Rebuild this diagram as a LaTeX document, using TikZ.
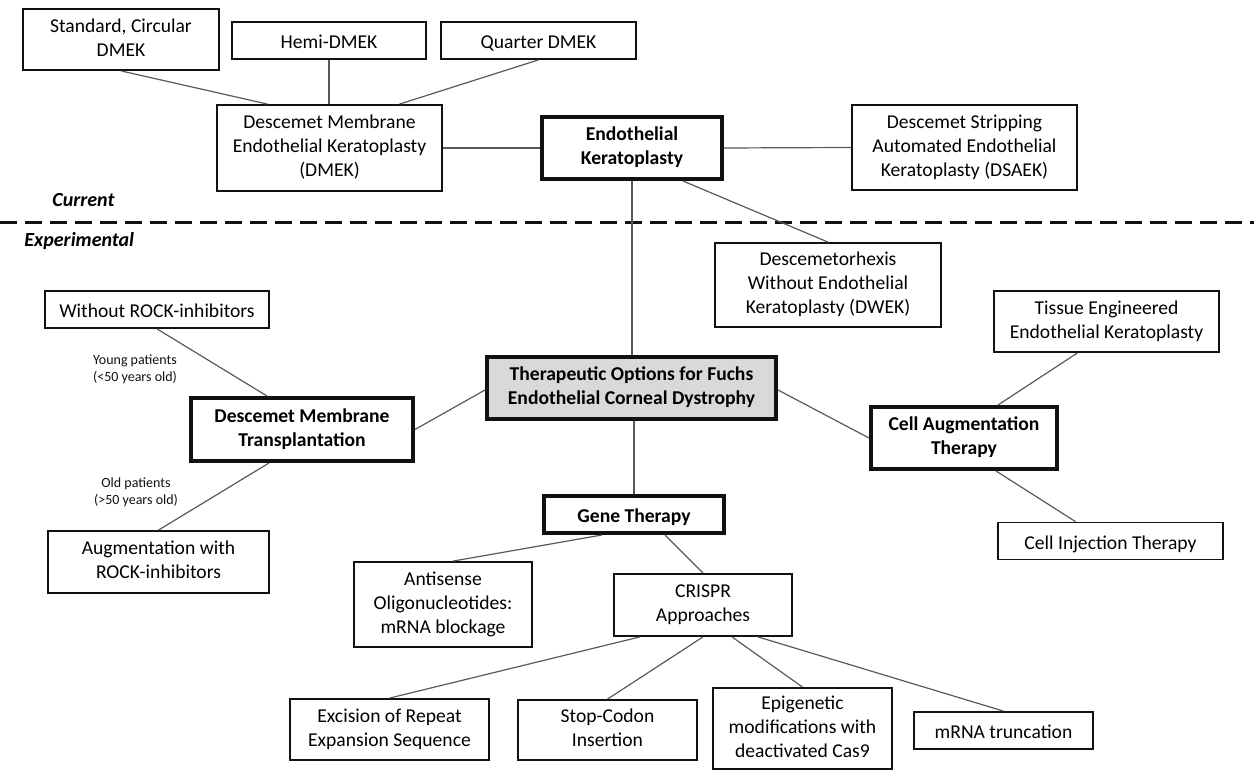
\documentclass[tikz,border=0pt]{standalone}
\usepackage{fontspec}
\setmainfont{Carlito}
\usepackage{tikz}
\usetikzlibrary{positioning, calc}
\definecolor{ink}{HTML}{111111}
\definecolor{wire}{HTML}{595959}
\definecolor{core}{HTML}{D9D9D9}
\newcommand\boxstrut{\rule[-2pt]{0pt}{12pt}}
\tikzset{
  box/.style     = {draw=ink, line width=0.9pt, rectangle, align=center,
                    inner sep=2pt, font=\fontsize{9.8}{12}\selectfont,
                    execute at begin node=\boxstrut, execute at end node=\boxstrut},
  boxhl/.style   = {box, line width=2pt, font=\fontsize{9.8}{12}\selectfont\bfseries},
  boxcore/.style = {boxhl, fill=core},
  link/.style    = {draw=wire, line width=0.6pt},
  split/.style   = {draw=ink, line width=1.5pt, dash pattern=on 8.5pt off 4pt},
  note/.style    = {font=\fontsize{7}{8.5}\selectfont, align=center, text=ink},
  era/.style     = {font=\fontsize{10}{12}\selectfont\bfseries\itshape, anchor=west, inner sep=0pt},
}

\begin{document}
\begin{tikzpicture}[x=0.5pt, y=-0.5pt]
  \useasboundingbox (0,0) rectangle (1254,770);

  % current options
  \node[box, minimum width=98pt, minimum height=30.5pt] (std) at (121,39.5) {Standard, Circular\\DMEK};
  \node[box, minimum width=97pt, minimum height=18.5pt] (hemi) at (329,40.5) {Hemi-DMEK};
  \node[box, minimum width=97.5pt, minimum height=18.5pt] (quarter) at (538.5,40.5) {Quarter DMEK};
  \node[box, minimum width=112.5pt, minimum height=43pt] (dmek) at (329.5,148)
    {Descemet Membrane\\Endothelial Keratoplasty\\(DMEK)};
  \node[boxhl, minimum width=90pt, minimum height=31pt] (ek) at (632,148) {Endothelial\\Keratoplasty};
  \node[box, minimum width=112.5pt, minimum height=42.5pt] (dsaek) at (964.5,147.5)
    {Descemet Stripping\\Automated Endothelial\\Keratoplasty (DSAEK)};

  \node[era] (cur) at (52,200) {Current};
  \coordinate (cutL) at (0,223);
  \coordinate (cutR) at (1254,223);
  \draw[split] (cutL) -- (cutR);
  \node[era] (exp) at (24,241) {Experimental};

  % experimental options
  \node[box, minimum width=113pt, minimum height=42pt] (dwek) at (828,285)
    {Descemetorhexis\\Without Endothelial\\Keratoplasty (DWEK)};
  \node[boxcore, minimum width=144.5pt, minimum height=31pt] (fecd) at (631.5,388)
    {Therapeutic Options for Fuchs\\Endothelial Corneal Dystrophy};

  \node[box, minimum width=112pt, minimum height=18.5pt] (woRock) at (157,309.5) {Without ROCK-inhibitors};
  \node[boxhl, minimum width=111pt, minimum height=31.5pt] (dmt) at (302,429.5)
    {Descemet Membrane\\Transplantation};
  \node[box, minimum width=110.5pt, minimum height=31pt] (augRock) at (158.5,562)
    {Augmentation with\\ROCK-inhibitors};
  \node[note] (young) at (135,369) {Young patients\\(<50 years old)};
  \node[note] (old) at (136,492) {Old patients\\(>50 years old)};

  \node[box, minimum width=112.5pt, minimum height=30.5pt] (tissue) at (1106.5,321.5)
    {Tissue Engineered\\Endothelial Keratoplasty};
  \node[boxhl, minimum width=93pt, minimum height=31pt] (cellAug) at (964,438) {Cell Augmentation\\Therapy};
  \node[box, minimum width=112.5pt, minimum height=18.5pt] (cellInj) at (1110.5,541) {Cell Injection Therapy};

  \node[boxhl, minimum width=90pt, minimum height=18.5pt] (gene) at (634,514.5) {Gene Therapy};
  \node[box, minimum width=89pt, minimum height=42.5pt] (antisense) at (443,604.5)
    {Antisense\\Oligonucleotides:\\mRNA blockage};
  \node[box, minimum width=89pt, minimum height=31pt] (crispr) at (703,605) {CRISPR\\Approaches};
  \node[box, minimum width=99.5pt, minimum height=30.5pt] (excision) at (389.5,729.5)
    {Excision of Repeat\\Expansion Sequence};
  \node[box, minimum width=89.5pt, minimum height=30pt] (stop) at (607.5,730) {Stop-Codon\\Insertion};
  \node[box, minimum width=89.5pt, minimum height=40.5pt] (epi) at (802.5,728.5)
    {Epigenetic\\modifications with\\deactivated Cas9};
  \node[box, minimum width=89.5pt, minimum height=18.5pt] (mrna) at (1003.5,730.5) {mRNA truncation};

  % connectors
  \draw[link] (std.south) -- ($(dmek.north)+(-62,0)$);
  \draw[link] (hemi.south) -- (hemi.south |- dmek.north);
  \draw[link] (quarter.south) -- ($(dmek.north)+(70,0)$);
  \draw[link] (dmek.east) -- (ek.west);
  \draw[link] (ek.east) -- (dsaek.west);
  \draw[link] (ek.south) -- (ek.south |- fecd.north);
  \draw[link] ($(ek.south)+(51,0)$) -- (dwek.north);

  \draw[link] (woRock.south) -- ($(dmt.north)+(-35,0)$);
  \draw[link] ($(dmt.south)+(-33,0)$) -- (augRock.north);
  \draw[link] ($(fecd.west)+(0,2)$) -- (dmt.east);

  \draw[link] ($(fecd.east)+(0,2)$) -- (cellAug.west);
  \draw[link] ($(tissue.south)+(-29,0)$) -- ($(cellAug.north)+(34,0)$);
  \draw[link] ($(cellAug.south)+(32,0)$) -- ($(cellInj.north)+(-35,0)$);

  \draw[link] (fecd.south -| gene.north) -- (gene.north);
  \draw[link] ($(gene.south)+(-32,0)$) -- ($(antisense.north)+(10,0)$);
  \draw[link] ($(gene.south)+(31,0)$) -- (crispr.north);
  \draw[link] ($(crispr.south)+(-63,0)$) -- (excision.north);
  \draw[link] (crispr.south) -- (stop.north);
  \draw[link] ($(crispr.south)+(29,0)$) -- (epi.north);
  \draw[link] ($(crispr.south)+(55,0)$) -- (mrna.north);
\end{tikzpicture}
\end{document}
